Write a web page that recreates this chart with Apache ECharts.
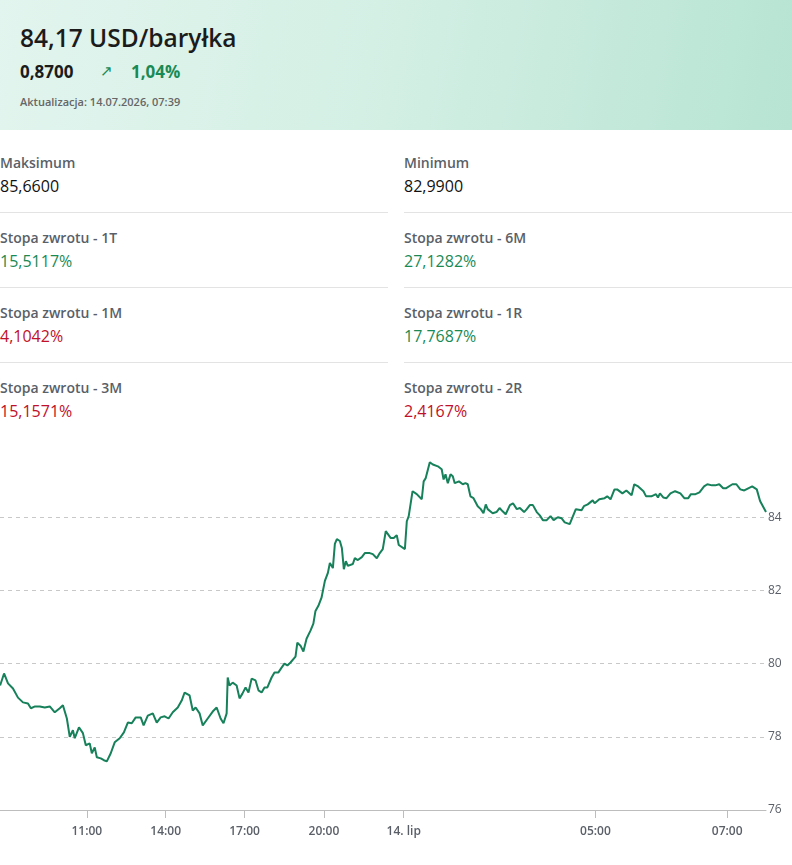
<!DOCTYPE html>
<html>
<head>
<meta charset="utf-8">
<script src="https://cdn.jsdelivr.net/npm/echarts@6/dist/echarts.min.js"></script>
<style>
  body { margin: 0; width: 792px; height: 865px; overflow: hidden; background: #fff; font-family: "Open Sans", sans-serif; position: relative; }
  .head { position: absolute; left: 0; top: 0; width: 792px; height: 130px; background: linear-gradient(100deg, #e2f5ee 0%, #d3efe4 50%, #b7e4d3 100%); }
  .title { position: absolute; left: 20px; top: 21px; font-size: 24.5px; font-weight: 600; color: #1b1b1b; }
  .chg { position: absolute; left: 20px; top: 60px; font-size: 17px; font-weight: 700; color: #1b1b1b; }
  .chg .arr { position: absolute; left: 80px; font-weight: 400; color: #1a8a55; font-size: 15px; }
  .chg .pct { position: absolute; left: 111px; color: #1a8a55; }
  .upd { position: absolute; left: 20px; top: 94px; font-size: 11px; font-weight: 600; color: #666; white-space: nowrap; }
  .cell { position: absolute; width: 388px; height: 75px; }
  .cell .lab { position: absolute; top: 16px; font-size: 14px; font-weight: 600; color: #5a5f68; }
  .cell .val { position: absolute; top: 38px; font-size: 16px; color: #111; }
  .cell.line { border-bottom: 1px solid #e3e3e3; }
  .g { color: #1a8a55 !important; }
  .r { color: #c0102a !important; }
  #chart { position: absolute; left: 0; top: 430px; width: 792px; height: 435px; }
</style>
</head>
<body>
<div class="head">
  <div class="title">84,17 USD/baryłka</div>
  <div class="chg">0,8700<span class="arr">&#8599;</span><span class="pct">1,04%</span></div>
  <div class="upd">Aktualizacja: 14.07.2026, 07:39</div>
</div>
<div id="stats"></div>
<div id="chart"></div>
<script>
// statistics shown above the chart
const statLabels = ['Maksimum', 'Minimum', 'Stopa zwrotu - 1T', 'Stopa zwrotu - 6M',
  'Stopa zwrotu - 1M', 'Stopa zwrotu - 1R', 'Stopa zwrotu - 3M', 'Stopa zwrotu - 2R'];
const statValues = ['85,6600', '82,9900', '15,5117%', '27,1282%', '4,1042%', '17,7687%', '15,1571%', '2,4167%'];
const statColors = ['', '', 'g', 'g', 'r', 'g', 'r', 'r'];

// time in hours (day 2 = +24), price in USD
const hours = [7.70, 7.85, 8.00, 8.19, 8.38, 8.57, 8.76, 8.87, 9.03, 9.21, 9.40, 9.59, 9.78, 9.97, 10.09, 10.24, 10.35, 10.47, 10.54, 10.70,
  10.85, 10.96, 11.11, 11.19, 11.30, 11.38, 11.53, 11.65, 11.76, 11.91, 12.06, 12.25, 12.41, 12.56, 12.71, 12.86, 13.05, 13.16, 13.32, 13.51,
  13.66, 13.81, 13.96, 14.11, 14.27, 14.46, 14.61, 14.72, 14.91, 15.03, 15.14, 15.29, 15.41, 15.60, 15.79, 15.94, 16.09, 16.20, 16.32, 16.36,
  16.43, 16.55, 16.70, 16.81, 16.92, 17.04, 17.15, 17.27, 17.42, 17.53, 17.65, 17.76, 17.87, 18.03, 18.14, 18.29, 18.41, 18.52, 18.63, 18.75,
  18.94, 19.01, 19.13, 19.24, 19.36, 19.51, 19.62, 19.70, 19.81, 19.93,
  20.05, 20.20, 20.30, 20.45, 20.55, 20.65, 20.80, 20.90, 21.00, 21.10, 21.20, 21.45, 21.55, 21.70, 21.90, 22.05, 22.30, 22.45, 22.65, 22.80,
  22.95, 23.10, 23.20, 23.35, 23.50, 23.65, 23.75, 23.80,
  24.03, 24.08, 24.13, 24.23, 24.34, 24.47, 24.52, 24.57, 24.68, 24.76, 24.89, 24.99, 25.04, 25.09, 25.15, 25.22, 25.28, 25.33, 25.44, 25.54,
  25.61, 25.67, 25.74, 25.82, 25.93, 26.01, 26.06, 26.08, 26.14, 26.19, 26.32, 26.42, 26.50, 26.58, 26.66, 26.77, 26.85, 26.95, 27.03, 27.14,
  27.21, 27.29, 27.37, 27.47, 27.55, 27.63, 27.73, 27.83, 27.91, 28.02, 28.12, 28.20, 28.33, 28.38, 28.49, 28.54, 28.64, 28.70, 28.80, 28.93,
  28.98, 29.06, 29.14, 29.18, 29.23, 29.29, 29.33, 29.41, 29.47, 29.55, 29.59, 29.65, 29.73, 29.77, 29.85, 29.88, 29.92, 29.95, 29.98, 30.03,
  30.08, 30.14, 30.21, 30.29, 30.35, 30.41, 30.45, 30.52, 30.58, 30.65, 30.70, 30.77, 30.82, 30.88, 30.94, 30.98, 31.08, 31.14, 31.20, 31.26,
  31.32, 31.38, 31.45, 31.50, 31.53, 31.59];
const prices = [79.40, 79.73, 79.46, 79.32, 79.07, 78.94, 78.91, 78.78, 78.83, 78.83, 78.80, 78.83, 78.67, 78.78, 78.86, 78.50, 78.00, 78.18, 77.96, 78.26,
  78.10, 77.77, 77.82, 77.55, 77.71, 77.44, 77.41, 77.36, 77.33, 77.55, 77.85, 77.96, 78.12, 78.39, 78.37, 78.53, 78.53, 78.31, 78.58, 78.64,
  78.39, 78.53, 78.56, 78.50, 78.67, 78.80, 78.99, 79.21, 79.13, 78.72, 78.80, 78.64, 78.31, 78.50, 78.69, 78.80, 78.50, 78.37, 78.64, 79.62,
  79.40, 79.48, 79.40, 79.05, 79.18, 79.35, 79.21, 79.59, 79.54, 79.27, 79.21, 79.35, 79.35, 79.62, 79.76, 79.76, 79.89, 80.00, 79.95, 80.03,
  80.19, 80.57, 80.49, 80.33, 80.68, 80.90, 81.09, 81.44, 81.58, 81.80,
  82.26, 82.48, 82.75, 82.61, 83.27, 83.40, 83.35, 83.16, 82.58, 82.80, 82.67, 82.72, 82.88, 82.83, 82.91, 83.02, 83.02, 82.99, 82.88, 83.02,
  83.13, 83.62, 83.62, 83.43, 83.43, 83.51, 83.24, 83.21,
  83.13, 83.89, 84.03, 84.71, 84.63, 84.49, 84.98, 85.06, 85.50, 85.44, 85.39, 85.31, 85.03, 85.17, 84.93, 85.17, 85.12, 84.93, 84.98, 84.90,
  84.93, 84.90, 84.57, 84.52, 84.30, 84.22, 84.25, 84.11, 84.35, 84.22, 84.11, 84.14, 84.25, 84.16, 84.08, 84.33, 84.38, 84.22, 84.25, 84.14,
  84.22, 84.33, 84.33, 84.14, 84.05, 83.92, 83.92, 84.03, 83.92, 84.00, 83.97, 83.86, 83.81, 83.81, 84.22, 84.25, 84.19, 84.30, 84.35, 84.46,
  84.38, 84.49, 84.52, 84.57, 84.49, 84.76, 84.76, 84.65, 84.73, 84.60, 84.90, 84.84, 84.71, 84.57, 84.57, 84.52, 84.63, 84.54, 84.65, 84.54,
  84.52, 84.65, 84.71, 84.65, 84.52, 84.52, 84.63, 84.63, 84.68, 84.84, 84.90, 84.87, 84.87, 84.90, 84.79, 84.79, 84.90, 84.90, 84.76, 84.73,
  84.79, 84.84, 84.76, 84.44, 84.46, 84.14];

const tickHours = [11, 14, 17, 20, 24, 29, 31];
const tickLabels = ['11:00', '14:00', '17:00', '20:00', '14. lip', '05:00', '07:00'];

// build stats grid
const stats = document.getElementById('stats');
statLabels.forEach(function (lab, i) {
    const col = i % 2, row = Math.floor(i / 2);
    const d = document.createElement('div');
    d.className = 'cell' + (row < 3 ? ' line' : '');
    d.style.left = (col ? 404 : 0) + 'px';
    d.style.top = (137 + row * 75) + 'px';
    d.innerHTML = '<div class="lab">' + lab + '</div><div class="val ' + statColors[i] + '">' + statValues[i] + '</div>';
    stats.appendChild(d);
});

// the chart compresses the session: piecewise-linear time scale
const segs = [[11, 87, 26.33], [20, 324.5, 20], [24, 404.5, 38.4], [29, 596.5, 66]];
function posA(h) {
    let s = segs[0];
    segs.forEach(function (g) { if (h >= g[0]) s = g; });
    return s[1] + (h - s[0]) * s[2];
}

const chart = echarts.init(document.getElementById('chart'));
chart.setOption({
    animation: false,
    grid: { left: 0, right: 26, top: 14, bottom: 55 },
    xAxis: {
        type: 'value',
        min: 0,
        max: posA(31.59),
        splitLine: { show: false },
        axisLine: { lineStyle: { color: '#bdbdbd' } },
        axisTick: { show: true, length: 8, lineStyle: { color: '#bdbdbd' }, customValues: tickHours.map(posA) },
        axisLabel: {
            customValues: tickHours.map(posA),
            color: '#5a5f68', fontSize: 12, fontWeight: 600, margin: 16, fontFamily: 'Open Sans',
            formatter: function (v) {
                let best = 0;
                tickHours.forEach(function (h, i) { if (Math.abs(posA(h) - v) < Math.abs(posA(tickHours[best]) - v)) best = i; });
                return tickLabels[best];
            }
        }
    },
    yAxis: {
        type: 'value',
        position: 'right',
        min: 76, max: 86, interval: 2,
        axisLine: { show: false },
        axisTick: { show: false },
        splitLine: { showMaxLine: false, lineStyle: { color: '#c8c8c8', type: [4, 4] } },
        axisLabel: { color: '#5a5f68', fontSize: 12, margin: 2, showMaxLabel: false, fontFamily: 'Open Sans' }
    },
    series: [{
        type: 'line',
        showSymbol: false,
        data: hours.map(function (h, i) { return [posA(h), prices[i]]; }),
        lineStyle: { color: '#16815a', width: 2 }
    }]
});
</script>
</body>
</html>
